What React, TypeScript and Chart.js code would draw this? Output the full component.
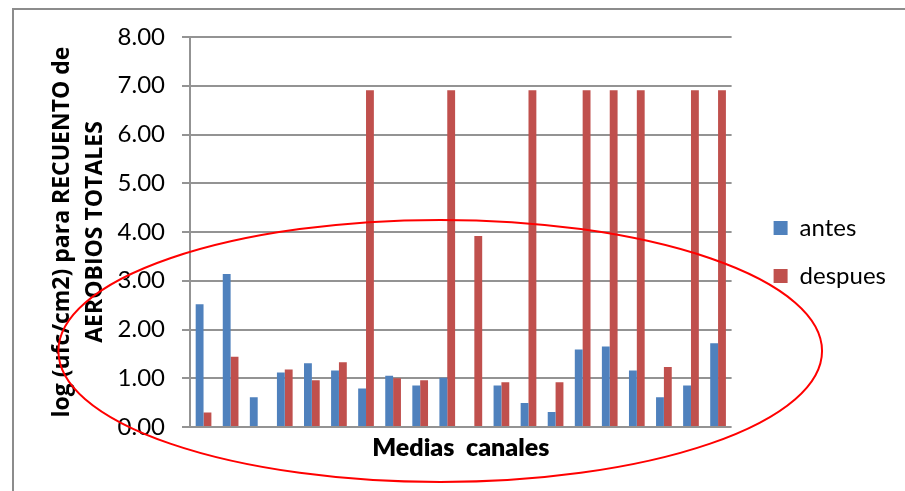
import React, { useEffect, useRef } from "react";
import { Chart, registerables } from "chart.js";

Chart.register(...registerables);

const categories = ["1","2","3","4","5","6","7","8","9","10","11","12","13","14","15","16","17","18","19","20"];
const antes = [2.52, 3.14, 0.61, 1.12, 1.31, 1.16, 0.79, 1.05, 0.85, 1.01, 0, 0.85, 0.49, 0.31, 1.59, 1.65, 1.16, 0.61, 0.85, 1.72];
const despues = [0.30, 1.44, 0, 1.18, 0.96, 1.33, 6.91, 1.00, 0.96, 6.91, 3.92, 0.92, 6.91, 0.92, 6.91, 6.91, 6.91, 1.23, 6.91, 6.91];
const yTickLabels = ["0.00", "1.00", "2.00", "3.00", "4.00", "5.00", "6.00", "7.00", "8.00"];
const seriesNames = ["antes", "despues"];
const yTitle = ["log (ufc/cm2) para RECUENTO de", "AEROBIOS TOTALES"];
const xTitle = "Medias  canales";

const ellipsePlugin = {
  id: "redEllipse",
  afterDraw(chart: any) {
    const { ctx, chartArea } = chart;
    const w = chartArea.right - chartArea.left;
    const h = chartArea.bottom - chartArea.top;
    const cx = chartArea.left + 0.462 * w;
    const cy = chartArea.top + 0.805 * h;
    const rx = 0.705 * w;
    const ry = 0.336 * h;
    ctx.save();
    ctx.beginPath();
    ctx.ellipse(cx, cy, rx, ry, 0, 0, Math.PI * 2);
    ctx.strokeStyle = "#ff0000";
    ctx.lineWidth = 2;
    ctx.stroke();
    ctx.restore();
  },
};

export default function App() {
  const ref = useRef<HTMLCanvasElement>(null);
  useEffect(() => {
    if (!ref.current) return;
    Chart.defaults.font.family = "Lato";
    const chart = new Chart(ref.current, {
      type: "bar",
      data: {
        labels: categories,
        datasets: [
          { label: seriesNames[0], data: antes, backgroundColor: "#4F81BD", borderWidth: 0, yAxisID: "y" },
          { label: seriesNames[1], data: despues, backgroundColor: "#C0504D", borderWidth: 0, yAxisID: "y" },
        ],
      },
      options: {
        responsive: false,
        animation: false,
        datasets: { bar: { categoryPercentage: 0.58, barPercentage: 1 } },
        layout: { padding: { top: 37, right: 9, left: 0, bottom: 24 } },
        plugins: {
          tooltip: { enabled: false },
          legend: {
            position: "right",
            labels: {
              boxWidth: 14,
              boxHeight: 14,
              padding: 24,
              color: "#000",
              font: { family: "Lato", size: 24 },
            },
          },
        },
        scales: {
          x: {
            grid: { display: false, drawTicks: false },
            border: { display: false },
            ticks: { display: false },
            title: {
              display: true,
              text: xTitle,
              color: "#000",
              font: { family: "Lato", size: 25, weight: 800 },
              padding: { top: 6, bottom: 4 },
            },
          },
          y: {
            min: 0,
            max: 8,
            afterFit: (s: any) => { s.width = 190; },
            ticks: {
              stepSize: 1,
              padding: 17,
              color: "#000",
              font: { family: "Lato", size: 24 },
              callback: (v: any) => yTickLabels[Math.round(Number(v))],
            },
            grid: { color: "#939393", lineWidth: 2, tickLength: 8, drawTicks: true },
            border: { display: true, color: "#939393", width: 2 },
            title: {
              display: true,
              text: yTitle,
              color: "#000",
              font: { family: "Open Sans", size: 23, weight: "bold", lineHeight: 1.435 },
              padding: { top: 46, bottom: 7 },
            },
          },
          gap: {
            position: "right",
            display: true,
            afterFit: (s: any) => { s.width = 18; },
            grid: { display: false, drawTicks: false },
            border: { display: false },
            ticks: { display: false },
          },
        },
      },
      plugins: [ellipsePlugin],
    });
    return () => chart.destroy();
  }, []);
  return (
    <div style={{ position: "fixed", left: 0, top: 0, width: 905, height: 491, background: "#fff", overflow: "hidden" }}>
      <div style={{ position: "absolute", left: 12, top: 8, width: 1000, height: 1000, border: "2px solid #8c8c8c" }} />
      <canvas ref={ref} width={905} height={491} style={{ position: "absolute", left: 0, top: 0, width: 905, height: 491 }} />
    </div>
  );
}
